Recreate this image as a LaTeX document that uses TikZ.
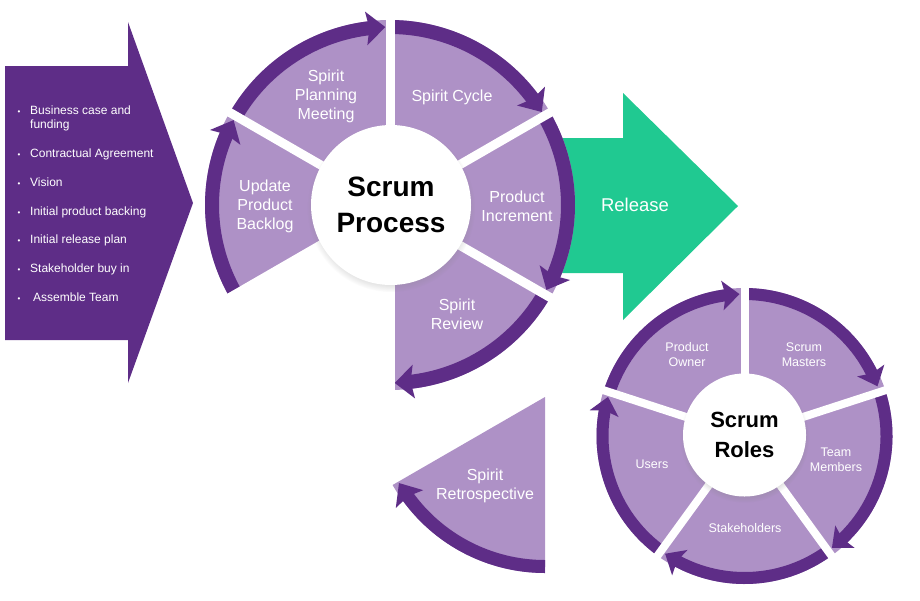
\documentclass[tikz,border=0pt]{standalone}
\usepackage{fontspec}
\setmainfont{Liberation Sans}
\usetikzlibrary{arrows.meta,bending,shadows}
\definecolor{lpurple}{HTML}{AE91C6}
\definecolor{dpurple}{HTML}{5E2D87}
\definecolor{rgreen}{HTML}{20C991}
\begin{document}
\begin{tikzpicture}[x=1pt,y=1pt,
  wedge/.style={fill=lpurple},
  gapline/.style={draw=white, line width=9pt},
  sgapline/.style={draw=white, line width=8pt},
  bigband/.style={draw=dpurple, line width=14pt, -{Stealth[length=19pt,width=33pt,inset=3pt]}},
  smallband/.style={draw=dpurple, line width=12pt, -{Stealth[length=17pt,width=29pt,inset=3pt]}},
  biglabel/.style={text=white, align=center, inner sep=0pt, font=\fontsize{16}{19}\selectfont},
  smalllabel/.style={text=white, align=center, inner sep=0pt, font=\fontsize{12.5}{15}\selectfont},
  listitem/.style={text=white, anchor=base west, inner sep=0pt, font=\fontsize{12}{14}\selectfont},
  bulletmark/.style={text=white, anchor=base, inner sep=0pt, font=\fontsize{8}{10}\selectfont},
  hub/.style={circle, fill=white, inner sep=0pt, align=center, text=black,
    circular drop shadow={shadow xshift=0pt, shadow yshift=-3pt, shadow scale=1.05, opacity=0.35}},
]
\useasboundingbox (0,0) rectangle (920,-600);

% ---------- left input arrow ----------
\fill[dpurple] (5,-66) -- (128,-66) -- (128,-22) -- (193,-203) -- (128,-383) -- (128,-340) -- (5,-340) -- cycle;
\foreach \n/\yy in {b1/114,b2/157,b3/186,b4/215,b5/243,b6/272,b7/301}
  \node[bulletmark] (\n) at (19,-\yy) {•};
\node[listitem] (i1) at (30,-114) {Business case and};
\node[listitem] (i1b) at (30,-128) {funding};
\node[listitem] (i2) at (30,-157) {Contractual Agreement};
\node[listitem] (i3) at (30,-186) {Vision};
\node[listitem] (i4) at (30,-215) {Initial product backing};
\node[listitem] (i5) at (30,-243) {Initial release plan};
\node[listitem] (i6) at (30,-272) {Stakeholder buy in};
\node[listitem] (i7) at (33,-301) {Assemble Team};

% ---------- release arrow ----------
\fill[rgreen] (555,-138) -- (623,-138) -- (623,-93) -- (738,-206) -- (623,-320) -- (623,-273) -- (555,-273) -- cycle;
\node[text=white, font=\fontsize{18.5}{22}\selectfont] (release) at (635,-205) {Release};

% ---------- Scrum process cycle ----------
\begin{scope}[shift={(390,-205)}]
  \fill[wedge] (0,0) -- (90:185) arc[start angle=90,end angle=150,radius=185] -- cycle;
  \fill[wedge] (0,0) -- (30:185) arc[start angle=30,end angle=90,radius=185] -- cycle;
  \fill[wedge] (0,0) -- (-30:185) arc[start angle=-30,end angle=30,radius=185] -- cycle;
  \fill[wedge] (0,0) -- (270:185) arc[start angle=270,end angle=330,radius=185] -- cycle;
  \fill[wedge] (0,0) -- (150:185) arc[start angle=150,end angle=210,radius=185] -- cycle;
  \draw[bigband] (150:178) arc[start angle=150,end angle=91.5,radius=178];
  \draw[bigband] (90:178) arc[start angle=90,end angle=31.5,radius=178];
  \draw[bigband] (30:178) arc[start angle=30,end angle=-28.5,radius=178];
  \draw[bigband] (-30:178) arc[start angle=-30,end angle=-88.5,radius=178];
  \draw[bigband] (210:178) arc[start angle=210,end angle=151.5,radius=178];
  \foreach \a in {90,30,-30,270,150,210}
    \draw[gapline] (0,0) -- (\a:192);
\end{scope}
\node[hub, minimum size=160pt, font=\bfseries\fontsize{28}{36}\selectfont] (process) at (391,-205) {Scrum\\Process};
\node[biglabel] (planning) at (326,-96) {Spirit\\Planning\\Meeting};
\node[biglabel] (cycle) at (452,-97) {Spirit Cycle};
\node[biglabel] (increment) at (517,-206) {Product\\Increment};
\node[biglabel] (review) at (457,-314) {Spirit\\Review};
\node[biglabel] (backlog) at (265,-206) {Update\\Product\\Backlog};

% ---------- exploded retrospective ----------
\begin{scope}[shift={(545,-397)}]
  \fill[wedge] (0,0) -- (270:176) arc[start angle=270,end angle=210,radius=176] -- cycle;
  \draw[draw=dpurple, line width=13pt, -{Stealth[length=19pt,width=32pt,inset=3pt]}]
    (270:169.5) arc[start angle=270,end angle=210.5,radius=169.5];
\end{scope}
\node[biglabel] (retro) at (485,-486) {Spirit\\Retrospective};

% ---------- Scrum roles cycle ----------
\begin{scope}[shift={(744.5,-436)}]
  \fill[wedge] (0,0) -- (90:148) arc[start angle=90,end angle=162,radius=148] -- cycle;
  \fill[wedge] (0,0) -- (18:148) arc[start angle=18,end angle=90,radius=148] -- cycle;
  \fill[wedge] (0,0) -- (-54:148) arc[start angle=-54,end angle=18,radius=148] -- cycle;
  \fill[wedge] (0,0) -- (-126:148) arc[start angle=-126,end angle=-54,radius=148] -- cycle;
  \fill[wedge] (0,0) -- (162:148) arc[start angle=162,end angle=234,radius=148] -- cycle;
  \draw[smallband] (162:142) arc[start angle=162,end angle=92,radius=142];
  \draw[smallband] (90:142) arc[start angle=90,end angle=20.5,radius=142];
  \draw[smallband] (18:142) arc[start angle=18,end angle=-52,radius=142];
  \draw[smallband] (-54:142) arc[start angle=-54,end angle=-124,radius=142];
  \draw[smallband] (234:142) arc[start angle=234,end angle=164,radius=142];
  \foreach \a in {90,18,-54,-126,162}
    \draw[sgapline] (0,0) -- (\a:155);
\end{scope}
\node[hub, minimum size=123pt, font=\bfseries\fontsize{22}{30}\selectfont] (roles) at (744.5,-435) {Scrum\\Roles};
\node[smalllabel] (owner) at (687,-354.5) {Product\\Owner};
\node[smalllabel] (masters) at (804,-354.5) {Scrum\\Masters};
\node[smalllabel] (members) at (836,-460) {Team\\Members};
\node[smalllabel] (stake) at (745,-528) {Stakeholders};
\node[smalllabel] (users) at (652,-464) {Users};
\end{tikzpicture}
\end{document}
